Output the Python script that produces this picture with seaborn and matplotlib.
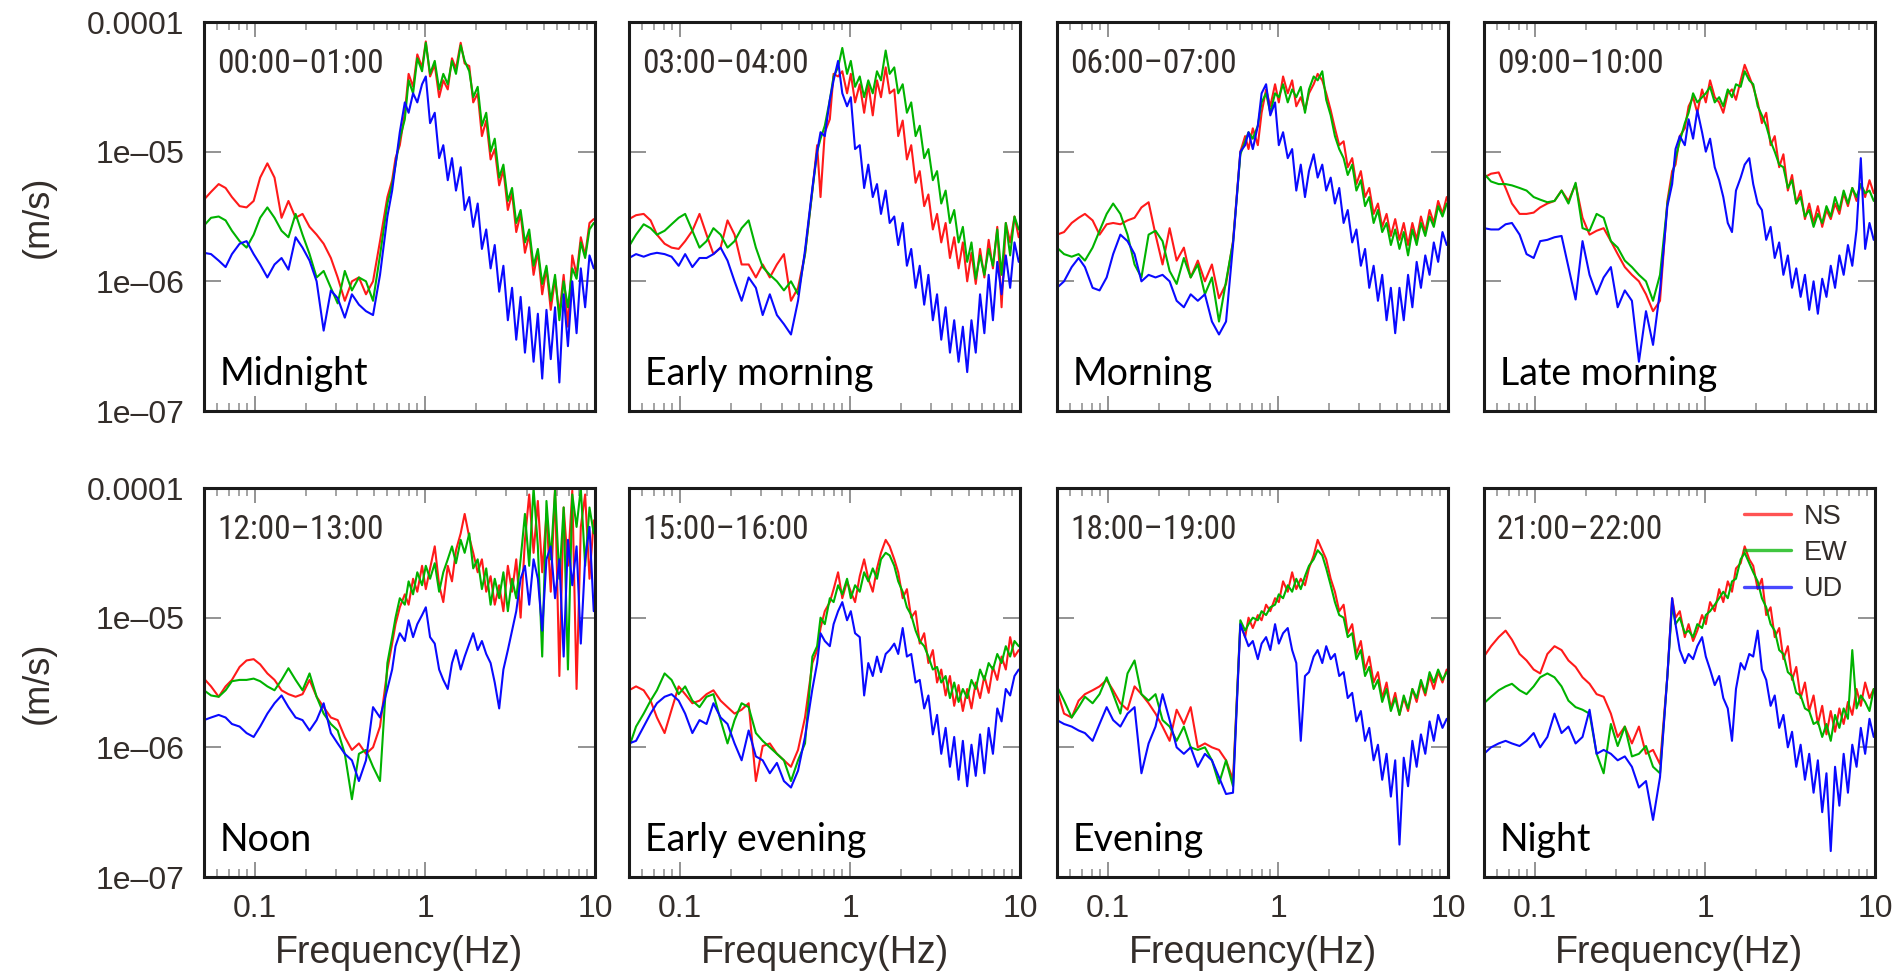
import sys
import matplotlib
matplotlib.use("Agg")
import numpy as np
import pandas as pd
import seaborn as sns
import matplotlib.pyplot as plt
from matplotlib import font_manager
from matplotlib.font_manager import FontProperties
from matplotlib.ticker import LogLocator, NullLocator, NullFormatter, FixedLocator

sns.set_theme(style="white")
plt.rcParams["font.family"] = ["Liberation Sans", "DejaVu Sans"]


def _find_condensed():
    cands = []
    for f in font_manager.fontManager.ttflist:
        name = f.name
        cond = ("Narrow" in name or "Condensed" in name or "Cond" in name
                or str(f.stretch) in ("condensed", "semi-condensed", "extra-condensed"))
        if not cond or f.style != "normal":
            continue
        try:
            w = int(f.weight)
        except (TypeError, ValueError):
            w = 400 if str(f.weight) in ("normal", "regular", "book") else 700
        if w not in (400,):
            continue
        if "Mono" in name or "Serif" in name:
            continue
        pri = 9
        for k, key in enumerate(["Liberation", "Roboto", "Noto Sans", "DejaVu Sans", "Open Sans"]):
            if key in name:
                pri = k
                break
        cands.append((pri, f.fname))
    cands.sort()
    return cands[0][1] if cands else None


_cond = _find_condensed()
if _cond:
    TIME_FP = FontProperties(fname=_cond, size=24)
else:
    TIME_FP = FontProperties(family=["Liberation Sans", "DejaVu Sans"], size=23)

# ---------------- data (log10 of m/s) ----------------
FREQ_HZ = [0.050, 0.055, 0.061, 0.067, 0.073, 0.081, 0.089, 0.098, 0.107, 0.118,
           0.130, 0.143, 0.157, 0.173, 0.190, 0.209, 0.230, 0.253, 0.279, 0.306,
           0.337, 0.371, 0.408, 0.449, 0.494, 0.543,
           0.60, 0.64, 0.67, 0.71, 0.76, 0.80, 0.85, 0.90, 0.96, 1.01,
           1.07, 1.14, 1.21, 1.28, 1.36, 1.44, 1.52, 1.62, 1.71, 1.82,
           1.92, 2.04, 2.16, 2.29, 2.43, 2.57, 2.73, 2.89, 3.07, 3.25,
           3.44, 3.65, 3.87, 4.10, 4.35, 4.61, 4.89, 5.18, 5.49, 5.82,
           6.17, 6.54, 6.93, 7.35, 7.79, 8.25, 8.75, 9.28, 9.83]

TIME_LABELS = ["00:00\u201301:00", "03:00\u201304:00", "06:00\u201307:00", "09:00\u201310:00",
               "12:00\u201313:00", "15:00\u201316:00", "18:00\u201319:00", "21:00\u201322:00"]
PERIOD_LABELS = ["Midnight", "Early morning", "Morning", "Late morning",
                 "Noon", "Early evening", "Evening", "Night"]
COMPONENTS = ["NS", "EW", "UD"]
Y_TICKS = [1e-7, 1e-6, 1e-5, 1e-4]
Y_TICK_LABELS = ["1e\u201307", "1e\u201306", "1e\u201305", "0.0001"]
X_TICKS = [0.1, 1, 10]
X_TICK_LABELS = ["0.1", "1", "10"]

MIDNIGHT_NS = [-5.37,-5.31,-5.25,-5.28,-5.35,-5.42,-5.43,-5.38,-5.20,-5.09,
               -5.20,-5.51,-5.38,-5.51,-5.48,-5.58,-5.64,-5.71,-5.82,-5.97,
               -6.15,-6.00,-5.97,-6.10,-6.00,-5.69,
               -5.35,-5.22,-5.05,-4.95,-4.70,-4.40,-4.50,-4.25,-4.35,-4.15,
               -4.42,-4.33,-4.58,-4.45,-4.52,-4.28,-4.36,-4.16,-4.32,-4.34,
               -4.62,-4.55,-4.88,-4.76,-5.06,-4.98,-5.26,-5.14,-5.45,-5.32,
               -5.62,-5.48,-5.78,-5.64,-5.95,-5.77,-6.10,-5.90,-6.22,-5.98,
               -6.25,-5.95,-6.35,-5.80,-5.95,-5.66,-5.80,-5.55,-5.52]
MIDNIGHT_EW = [-5.57,-5.51,-5.50,-5.53,-5.61,-5.69,-5.74,-5.64,-5.51,-5.43,
               -5.51,-5.61,-5.66,-5.48,-5.64,-5.79,-5.97,-5.92,-6.05,-6.17,
               -5.92,-6.07,-5.97,-6.00,-6.15,-5.80,
               -5.40,-5.25,-5.10,-4.90,-4.75,-4.45,-4.55,-4.28,-4.38,-4.16,
               -4.40,-4.30,-4.52,-4.40,-4.48,-4.30,-4.40,-4.18,-4.30,-4.38,
               -4.58,-4.50,-4.80,-4.70,-5.00,-4.90,-5.20,-5.10,-5.38,-5.28,
               -5.55,-5.45,-5.70,-5.60,-5.88,-5.75,-6.02,-5.88,-6.15,-5.95,
               -6.30,-6.00,-6.20,-5.90,-5.98,-5.70,-5.82,-5.60,-5.55]
MIDNIGHT_UD = [-5.78,-5.79,-5.84,-5.89,-5.79,-5.71,-5.69,-5.79,-5.87,-5.97,
               -5.87,-5.82,-5.91,-5.66,-5.74,-5.84,-6.00,-6.38,-6.07,-6.13,
               -6.28,-6.10,-6.18,-6.23,-6.26,-5.95,
               -5.50,-5.30,-5.10,-4.85,-4.62,-4.70,-4.55,-4.62,-4.48,-4.42,
               -4.78,-4.70,-5.05,-4.95,-5.22,-5.05,-5.30,-5.12,-5.45,-5.35,
               -5.58,-5.40,-5.75,-5.60,-5.90,-5.72,-6.08,-5.88,-6.30,-6.05,
               -6.45,-6.12,-6.55,-6.20,-6.62,-6.25,-6.75,-6.22,-6.60,-6.20,
               -6.78,-6.10,-6.50,-6.00,-6.40,-5.90,-6.20,-5.80,-5.90]

EARLY_MORNING_NS = [-5.52,-5.49,-5.48,-5.53,-5.64,-5.71,-5.74,-5.75,-5.69,-5.61,
                    -5.48,-5.64,-5.79,-5.74,-5.53,-5.64,-5.87,-5.87,-5.97,-5.87,
                    -5.97,-5.87,-5.79,-6.15,-6.05,-5.79,
                    -5.30,-4.95,-5.35,-4.85,-4.75,-4.40,-4.42,-4.38,-4.55,-4.40,
                    -4.62,-4.48,-4.70,-4.48,-4.72,-4.45,-4.58,-4.35,-4.55,-4.52,
                    -4.88,-4.76,-5.06,-4.95,-5.24,-5.15,-5.42,-5.33,-5.60,-5.48,
                    -5.70,-5.55,-5.82,-5.66,-5.90,-5.70,-6.00,-5.78,-6.02,-5.75,
                    -5.97,-5.68,-5.90,-5.58,-6.20,-5.55,-5.70,-5.50,-5.66]
EARLY_MORNING_EW = [-5.73,-5.64,-5.56,-5.59,-5.64,-5.61,-5.56,-5.51,-5.48,-5.61,
                    -5.74,-5.69,-5.59,-5.64,-5.74,-5.69,-5.59,-5.53,-5.74,-5.89,
                    -5.95,-6.00,-6.07,-6.00,-6.10,-5.79,
                    -5.30,-5.00,-4.90,-4.80,-4.60,-4.42,-4.35,-4.20,-4.40,-4.30,
                    -4.50,-4.42,-4.58,-4.45,-4.55,-4.38,-4.45,-4.22,-4.40,-4.35,
                    -4.55,-4.48,-4.70,-4.62,-4.88,-4.80,-5.05,-4.98,-5.22,-5.15,
                    -5.40,-5.30,-5.55,-5.45,-5.70,-5.58,-5.85,-5.70,-5.98,-5.80,
                    -5.95,-5.75,-5.88,-5.60,-5.95,-5.55,-5.80,-5.50,-5.60]
EARLY_MORNING_UD = [-5.82,-5.79,-5.81,-5.79,-5.78,-5.79,-5.81,-5.88,-5.79,-5.89,
                    -5.82,-5.82,-5.79,-5.74,-5.84,-6.00,-6.15,-5.97,-6.05,-6.26,
                    -6.10,-6.26,-6.33,-6.41,-6.15,-5.76,
                    -5.28,-5.00,-4.85,-4.88,-4.60,-4.45,-4.30,-4.55,-4.65,-4.58,
                    -4.98,-4.95,-5.28,-5.10,-5.35,-5.25,-5.48,-5.30,-5.55,-5.50,
                    -5.72,-5.55,-5.88,-5.75,-6.05,-5.88,-6.18,-5.95,-6.30,-6.10,
                    -6.45,-6.20,-6.55,-6.30,-6.62,-6.35,-6.70,-6.30,-6.55,-6.10,
                    -6.40,-5.95,-6.30,-5.85,-6.10,-5.80,-6.05,-5.70,-5.85]

MORNING_NS = [-5.64,-5.62,-5.55,-5.51,-5.48,-5.53,-5.64,-5.56,-5.55,-5.56,
              -5.53,-5.51,-5.43,-5.39,-5.64,-5.87,-5.59,-5.84,-5.74,-5.97,
              -5.84,-6.00,-5.87,-6.13,-6.02,-5.69,
              -5.00,-4.88,-4.98,-4.82,-4.95,-4.70,-4.52,-4.65,-4.48,-4.62,
              -4.42,-4.55,-4.45,-4.65,-4.58,-4.68,-4.55,-4.48,-4.40,-4.45,
              -4.55,-4.68,-4.82,-4.95,-4.92,-5.12,-5.05,-5.25,-5.15,-5.35,
              -5.28,-5.48,-5.40,-5.58,-5.48,-5.65,-5.52,-5.68,-5.55,-5.72,
              -5.55,-5.68,-5.50,-5.62,-5.45,-5.55,-5.38,-5.48,-5.35]
MORNING_EW = [-5.74,-5.79,-5.81,-5.79,-5.84,-5.74,-5.61,-5.48,-5.40,-5.48,
              -5.64,-5.87,-5.97,-5.64,-5.61,-5.69,-5.92,-6.02,-5.82,-5.97,
              -5.87,-6.10,-5.97,-6.31,-6.00,-5.70,
              -5.02,-4.92,-4.85,-4.90,-4.80,-4.62,-4.55,-4.70,-4.55,-4.58,
              -4.48,-4.62,-4.52,-4.58,-4.50,-4.70,-4.52,-4.42,-4.45,-4.38,
              -4.60,-4.72,-4.88,-4.98,-5.05,-5.18,-5.10,-5.30,-5.22,-5.42,
              -5.35,-5.55,-5.45,-5.62,-5.55,-5.72,-5.60,-5.75,-5.62,-5.80,
              -5.60,-5.72,-5.55,-5.65,-5.50,-5.58,-5.42,-5.50,-5.40]
MORNING_UD = [-6.05,-6.00,-5.89,-5.82,-5.89,-6.05,-6.07,-5.97,-5.79,-5.64,
              -5.69,-5.79,-6.00,-5.95,-5.97,-5.95,-6.00,-6.15,-6.20,-6.10,
              -6.15,-6.10,-6.31,-6.41,-6.31,-5.72,
              -5.00,-4.95,-4.85,-4.98,-4.80,-4.55,-4.48,-4.72,-4.62,-4.95,
              -4.85,-5.05,-4.98,-5.30,-5.10,-5.35,-5.15,-5.02,-5.20,-5.10,
              -5.30,-5.20,-5.40,-5.28,-5.55,-5.45,-5.70,-5.60,-5.88,-5.75,
              -6.05,-5.88,-6.15,-5.95,-6.30,-6.05,-6.40,-6.05,-6.30,-5.95,
              -6.20,-5.85,-6.05,-5.80,-5.95,-5.70,-5.85,-5.62,-5.72]

LATE_MORNING_NS = [-5.20,-5.17,-5.16,-5.28,-5.40,-5.48,-5.48,-5.47,-5.43,-5.40,
                   -5.38,-5.30,-5.38,-5.25,-5.51,-5.64,-5.61,-5.59,-5.69,-5.79,
                   -5.89,-5.95,-6.00,-6.10,-6.23,-6.15,
                   -5.38,-5.15,-5.10,-4.88,-4.82,-4.65,-4.58,-4.70,-4.52,-4.62,
                   -4.45,-4.58,-4.62,-4.70,-4.55,-4.52,-4.60,-4.45,-4.33,-4.42,
                   -4.50,-4.62,-4.78,-4.70,-4.95,-4.88,-5.12,-5.02,-5.30,-5.18,
                   -5.40,-5.30,-5.52,-5.40,-5.55,-5.42,-5.58,-5.45,-5.52,-5.40,
                   -5.48,-5.32,-5.42,-5.28,-5.38,-5.25,-5.35,-5.22,-5.32]
LATE_MORNING_EW = [-5.17,-5.23,-5.25,-5.25,-5.26,-5.28,-5.30,-5.35,-5.37,-5.39,
                   -5.38,-5.30,-5.40,-5.24,-5.59,-5.61,-5.48,-5.51,-5.69,-5.74,
                   -5.84,-5.89,-5.95,-6.00,-6.15,-5.95,
                   -5.40,-5.20,-5.05,-4.92,-4.78,-4.70,-4.55,-4.62,-4.58,-4.55,
                   -4.50,-4.62,-4.58,-4.65,-4.52,-4.58,-4.48,-4.50,-4.38,-4.45,
                   -4.48,-4.65,-4.72,-4.80,-4.92,-5.00,-5.10,-5.12,-5.28,-5.22,
                   -5.40,-5.35,-5.50,-5.45,-5.58,-5.48,-5.55,-5.42,-5.50,-5.35,
                   -5.45,-5.30,-5.40,-5.28,-5.35,-5.25,-5.32,-5.30,-5.38]
LATE_MORNING_UD = [-5.59,-5.60,-5.60,-5.56,-5.55,-5.64,-5.79,-5.82,-5.69,-5.68,
                   -5.66,-5.65,-5.89,-6.14,-5.69,-5.95,-6.10,-5.97,-5.89,-6.20,
                   -6.07,-6.15,-6.62,-6.23,-6.49,-6.07,
                   -5.42,-5.25,-4.98,-4.88,-4.95,-4.75,-4.90,-4.68,-4.85,-5.00,
                   -4.90,-5.12,-5.22,-5.35,-5.55,-5.62,-5.30,-5.20,-5.10,-5.05,
                   -5.25,-5.40,-5.45,-5.68,-5.58,-5.82,-5.70,-5.95,-5.80,-6.05,
                   -5.90,-6.12,-5.95,-6.22,-6.00,-6.25,-5.98,-6.12,-5.88,-6.05,
                   -5.80,-5.95,-5.72,-5.88,-5.60,-5.05,-5.75,-5.55,-5.68]

NOON_NS = [-5.47,-5.53,-5.61,-5.53,-5.48,-5.38,-5.33,-5.32,-5.36,-5.43,
           -5.48,-5.56,-5.59,-5.61,-5.59,-5.48,-5.61,-5.69,-5.77,-5.79,
           -5.92,-6.02,-5.97,-6.05,-6.00,-5.84,
           -5.40,-5.20,-5.05,-4.92,-4.82,-4.90,-4.70,-4.80,-4.60,-4.78,
           -4.62,-4.45,-4.75,-4.88,-4.60,-4.72,-4.48,-4.35,-4.20,-4.38,
           -4.50,-4.65,-4.55,-4.80,-4.68,-4.90,-4.75,-4.95,-4.60,-4.80,
           -4.55,-5.00,-4.40,-4.05,-4.50,-4.10,-4.65,-4.20,-4.80,-4.00,
           -5.45,-4.15,-4.60,-4.02,-5.55,-4.30,-4.05,-4.70,-4.25]
NOON_EW = [-5.56,-5.60,-5.61,-5.56,-5.49,-5.48,-5.48,-5.47,-5.49,-5.53,
           -5.56,-5.48,-5.39,-5.48,-5.56,-5.43,-5.61,-5.74,-5.82,-5.87,
           -6.05,-6.40,-6.05,-6.02,-6.15,-6.26,
           -5.35,-5.15,-5.00,-4.85,-4.90,-4.72,-4.82,-4.65,-4.75,-4.60,
           -4.70,-4.58,-4.80,-4.65,-4.55,-4.45,-4.58,-4.40,-4.50,-4.35,
           -4.62,-4.55,-4.78,-4.62,-4.90,-4.70,-4.85,-4.65,-4.95,-4.70,
           -4.85,-4.55,-4.20,-4.60,-4.00,-4.45,-5.30,-4.10,-4.55,-4.02,
           -4.70,-4.15,-5.40,-4.05,-4.30,-4.00,-4.60,-4.15,-4.35]
NOON_UD = [-5.79,-5.77,-5.75,-5.77,-5.82,-5.84,-5.89,-5.92,-5.84,-5.74,
           -5.66,-5.60,-5.69,-5.77,-5.79,-5.87,-5.79,-5.66,-5.89,-5.97,
           -6.05,-6.10,-6.26,-6.10,-5.69,-5.77,
           -5.55,-5.40,-5.22,-5.12,-5.18,-5.02,-5.15,-5.05,-4.98,-4.92,
           -5.15,-5.20,-5.40,-5.48,-5.55,-5.35,-5.25,-5.40,-5.30,-5.20,
           -5.12,-5.25,-5.18,-5.28,-5.35,-5.50,-5.70,-5.40,-5.25,-5.10,
           -4.95,-4.70,-4.60,-4.90,-4.55,-4.70,-5.10,-4.55,-4.45,-4.85,
           -4.55,-5.30,-4.40,-4.75,-4.45,-5.20,-4.55,-4.30,-4.95]

EARLY_EVENING_NS = [-5.56,-5.53,-5.56,-5.64,-5.77,-5.89,-5.71,-5.53,-5.59,-5.66,
                    -5.64,-5.59,-5.56,-5.64,-5.69,-5.74,-5.71,-5.66,-6.26,-5.99,
                    -5.97,-6.05,-6.10,-6.15,-6.02,-5.77,
                    -5.35,-5.25,-5.08,-4.95,-4.88,-4.78,-4.65,-4.85,-4.72,-4.80,
                    -4.88,-4.68,-4.55,-4.70,-4.80,-4.62,-4.50,-4.40,-4.45,-4.55,
                    -4.65,-4.85,-4.78,-5.00,-4.95,-5.20,-5.12,-5.35,-5.25,-5.50,
                    -5.40,-5.60,-5.45,-5.68,-5.52,-5.72,-5.55,-5.70,-5.50,-5.62,
                    -5.45,-5.58,-5.38,-5.48,-5.30,-5.40,-5.15,-5.30,-5.25]
EARLY_EVENING_EW = [-6.00,-5.84,-5.74,-5.64,-5.56,-5.43,-5.48,-5.59,-5.53,-5.64,
                    -5.69,-5.61,-5.59,-5.79,-5.97,-5.79,-5.66,-5.69,-5.89,-5.95,
                    -6.00,-6.05,-6.10,-6.26,-6.10,-5.97,
                    -5.30,-5.22,-5.00,-5.05,-4.85,-4.88,-4.75,-4.82,-4.70,-4.85,
                    -4.75,-4.80,-4.65,-4.72,-4.62,-4.70,-4.55,-4.50,-4.52,-4.60,
                    -4.72,-4.80,-4.92,-4.98,-5.10,-5.18,-5.22,-5.30,-5.40,-5.38,
                    -5.50,-5.45,-5.62,-5.50,-5.65,-5.55,-5.62,-5.48,-5.55,-5.40,
                    -5.48,-5.35,-5.40,-5.28,-5.35,-5.22,-5.30,-5.18,-5.22]
EARLY_EVENING_UD = [-5.97,-5.95,-5.84,-5.74,-5.66,-5.61,-5.59,-5.64,-5.74,-5.89,
                    -5.79,-5.82,-5.66,-5.77,-5.82,-5.97,-6.10,-5.87,-6.07,-6.10,
                    -6.20,-6.12,-6.26,-6.31,-6.18,-5.92,
                    -5.55,-5.35,-5.12,-5.18,-5.22,-5.05,-4.95,-4.88,-5.02,-4.95,
                    -5.12,-5.15,-5.60,-5.35,-5.45,-5.30,-5.42,-5.28,-5.25,-5.20,
                    -5.28,-5.08,-5.30,-5.28,-5.50,-5.48,-5.70,-5.60,-5.90,-5.75,
                    -6.05,-5.85,-6.15,-5.92,-6.25,-5.95,-6.30,-5.98,-6.22,-5.90,
                    -6.20,-5.85,-6.05,-5.70,-5.80,-5.55,-5.60,-5.45,-5.40]

EVENING_NS = [-5.56,-5.74,-5.77,-5.64,-5.59,-5.56,-5.53,-5.48,-5.56,-5.66,
              -5.71,-5.53,-5.59,-5.66,-5.74,-5.84,-5.95,-5.71,-5.82,-5.69,
              -6.00,-5.97,-6.00,-6.02,-6.10,-6.25,
              -5.05,-5.15,-5.00,-5.08,-4.98,-5.02,-4.90,-4.95,-4.85,-4.88,
              -4.72,-4.80,-4.65,-4.78,-4.70,-4.75,-4.62,-4.52,-4.40,-4.48,
              -4.55,-4.70,-4.80,-4.95,-4.90,-5.12,-5.05,-5.28,-5.18,-5.40,
              -5.30,-5.50,-5.42,-5.62,-5.50,-5.70,-5.58,-5.75,-5.62,-5.72,
              -5.55,-5.65,-5.50,-5.60,-5.45,-5.55,-5.42,-5.50,-5.40]
EVENING_EW = [-5.53,-5.64,-5.77,-5.69,-5.61,-5.66,-5.59,-5.46,-5.59,-5.74,
              -5.43,-5.33,-5.59,-5.64,-5.59,-5.79,-5.84,-5.95,-5.84,-6.00,
              -6.02,-6.00,-6.10,-6.28,-6.10,-6.30,
              -5.02,-5.10,-5.05,-5.00,-5.02,-4.95,-4.98,-4.92,-4.90,-4.82,
              -4.85,-4.75,-4.80,-4.70,-4.78,-4.68,-4.60,-4.55,-4.48,-4.52,
              -4.62,-4.75,-4.88,-4.98,-5.00,-5.15,-5.12,-5.32,-5.25,-5.45,
              -5.38,-5.55,-5.48,-5.65,-5.55,-5.72,-5.62,-5.75,-5.60,-5.70,
              -5.55,-5.62,-5.48,-5.58,-5.42,-5.50,-5.40,-5.48,-5.42]
EVENING_UD = [-5.79,-5.82,-5.84,-5.87,-5.89,-5.95,-5.82,-5.69,-5.79,-5.84,
              -5.74,-5.69,-6.20,-5.97,-5.84,-5.59,-5.79,-6.00,-6.05,-6.00,
              -6.15,-6.05,-6.10,-6.23,-6.36,-6.35,
              -5.05,-5.15,-5.22,-5.18,-5.32,-5.20,-5.15,-5.25,-5.05,-5.20,
              -5.12,-5.08,-5.25,-5.35,-5.95,-5.45,-5.42,-5.30,-5.25,-5.35,
              -5.22,-5.32,-5.28,-5.45,-5.42,-5.62,-5.58,-5.80,-5.72,-5.95,
              -5.85,-6.10,-5.98,-6.25,-6.05,-6.38,-6.10,-6.75,-6.08,-6.30,
              -5.95,-6.15,-5.90,-6.05,-5.80,-5.95,-5.75,-5.85,-5.78]

NIGHT_NS = [-5.30,-5.22,-5.15,-5.10,-5.17,-5.28,-5.33,-5.40,-5.43,-5.28,
            -5.22,-5.25,-5.33,-5.38,-5.46,-5.51,-5.59,-5.61,-5.74,-5.92,
            -5.84,-5.97,-5.84,-6.05,-6.02,-6.13,
            -5.45,-4.85,-5.00,-4.95,-5.15,-5.05,-5.18,-5.10,-4.98,-5.05,
            -4.88,-4.95,-4.78,-4.88,-4.72,-4.80,-4.62,-4.58,-4.45,-4.55,
            -4.60,-4.78,-4.70,-4.98,-4.92,-5.15,-5.08,-5.32,-5.22,-5.48,
            -5.38,-5.62,-5.50,-5.72,-5.60,-5.82,-5.68,-5.90,-5.72,-5.88,
            -5.70,-5.82,-5.65,-5.75,-5.55,-5.68,-5.50,-5.62,-5.55]
NIGHT_EW = [-5.66,-5.61,-5.56,-5.53,-5.51,-5.56,-5.59,-5.53,-5.46,-5.43,
            -5.46,-5.53,-5.64,-5.69,-5.71,-5.74,-6.05,-6.20,-5.82,-5.99,
            -5.84,-6.07,-6.05,-5.99,-6.15,-6.20,
            -5.45,-4.90,-5.05,-5.00,-5.12,-5.10,-5.15,-5.05,-5.08,-4.98,
            -4.95,-4.90,-4.85,-4.80,-4.85,-4.72,-4.70,-4.55,-4.50,-4.58,
            -4.65,-4.72,-4.85,-4.92,-5.05,-5.10,-5.25,-5.28,-5.42,-5.45,
            -5.58,-5.60,-5.70,-5.72,-5.82,-5.80,-5.92,-5.82,-5.95,-5.75,
            -5.85,-5.70,-5.78,-5.25,-5.70,-5.60,-5.65,-5.72,-5.55]
NIGHT_UD = [-6.05,-6.00,-5.97,-5.95,-5.97,-5.99,-5.95,-5.89,-6.00,-5.92,
            -5.74,-5.89,-5.84,-5.97,-5.92,-5.71,-6.05,-6.02,-6.05,-6.10,
            -6.07,-6.15,-6.31,-6.26,-6.56,-6.23,
            -5.45,-4.85,-5.05,-5.25,-5.35,-5.28,-5.32,-5.22,-5.15,-5.30,
            -5.40,-5.52,-5.45,-5.62,-5.70,-5.95,-5.55,-5.35,-5.40,-5.28,
            -5.30,-5.10,-5.40,-5.48,-5.68,-5.60,-5.85,-5.75,-6.00,-5.88,
            -6.15,-5.98,-6.25,-6.05,-6.35,-6.10,-6.50,-6.20,-6.80,-6.15,
            -6.45,-6.05,-6.35,-5.98,-6.15,-5.85,-6.05,-5.78,-5.92]

PANEL_SERIES = [
    (MIDNIGHT_NS, MIDNIGHT_EW, MIDNIGHT_UD),
    (EARLY_MORNING_NS, EARLY_MORNING_EW, EARLY_MORNING_UD),
    (MORNING_NS, MORNING_EW, MORNING_UD),
    (LATE_MORNING_NS, LATE_MORNING_EW, LATE_MORNING_UD),
    (NOON_NS, NOON_EW, NOON_UD),
    (EARLY_EVENING_NS, EARLY_EVENING_EW, EARLY_EVENING_UD),
    (EVENING_NS, EVENING_EW, EVENING_UD),
    (NIGHT_NS, NIGHT_EW, NIGHT_UD),
]

# ---------------- style ----------------
PALETTE = {"NS": "#ff1a1a", "EW": "#00b300", "UD": "#0a0aff"}
TEXT_COLOR = "#332d2a"
TICK_COLOR = "#8a8a8a"

W, H = 1897, 976
fig = plt.figure(figsize=(W / 100, H / 100), dpi=100)

col_left_px = [204, 629, 1057, 1484]
ax_w_px = 391
row_top_px = [22, 488]
ax_h_px = 389


def build_frame(series):
    rows = []
    for comp, vals in zip(COMPONENTS, series):
        n = min(len(FREQ_HZ), len(vals))
        if n != len(FREQ_HZ) or n != len(vals):
            print(f"length mismatch {comp}: {len(vals)}", file=sys.stderr)
        for f, v in zip(FREQ_HZ[:n], vals[:n]):
            rows.append((f, 10.0 ** v, comp))
    return pd.DataFrame(rows, columns=["freq", "amp", "component"])


for i, series in enumerate(PANEL_SERIES):
    r, c = divmod(i, 4)
    left = col_left_px[c] / W
    bottom = 1 - (row_top_px[r] + ax_h_px) / H
    ax = fig.add_axes([left, bottom, ax_w_px / W, ax_h_px / H])
    df = build_frame(series)
    sns.lineplot(data=df, x="freq", y="amp", hue="component", hue_order=COMPONENTS,
                 palette=PALETTE, estimator=None, errorbar=None, sort=False,
                 linewidth=1.5, ax=ax, legend=(i == 7))
    ax.set_xscale("log")
    ax.set_yscale("log")
    ax.set_xlim(0.05, 10)
    ax.set_ylim(1e-7, 1e-4)
    ax.set_xlabel("")
    ax.set_ylabel("")

    ax.xaxis.set_major_locator(FixedLocator(X_TICKS))
    ax.xaxis.set_minor_locator(LogLocator(base=10, subs=np.arange(2, 10)))
    ax.xaxis.set_minor_formatter(NullFormatter())
    ax.yaxis.set_major_locator(FixedLocator(Y_TICKS))
    ax.yaxis.set_minor_locator(NullLocator())
    ax.set_xticklabels(X_TICK_LABELS)
    ax.set_yticklabels(Y_TICK_LABELS)

    ax.tick_params(axis="x", which="major", direction="in", top=True, bottom=True,
                   length=11, width=1.3, color=TICK_COLOR, pad=12,
                   labelsize=23, labelcolor=TEXT_COLOR, labelbottom=(r == 1))
    ax.tick_params(axis="x", which="minor", direction="in", top=True, bottom=True,
                   length=5.5, width=1.1, color=TICK_COLOR)
    ax.tick_params(axis="y", which="major", direction="in", left=True, right=True,
                   length=12, width=1.3, color=TICK_COLOR, pad=14,
                   labelsize=23, labelcolor=TEXT_COLOR, labelleft=(c == 0))
    for sp in ax.spines.values():
        sp.set_visible(True)
        sp.set_color("#1a1a1a")
        sp.set_linewidth(2.2)

    ax.text(0.033, 0.869, TIME_LABELS[i], transform=ax.transAxes, fontproperties=TIME_FP,
            color=TEXT_COLOR, ha="left", va="baseline")
    ax.text(0.04, 0.066, PERIOD_LABELS[i], transform=ax.transAxes, fontsize=27,
            color="black", ha="left", va="baseline", family=["Lato", "DejaVu Sans"])

    if r == 1:
        cx = (col_left_px[c] + ax_w_px / 2) / W
        fig.text(cx, 1 - 953 / H, "Frequency(Hz)", ha="center", va="center",
                 fontsize=27, color=TEXT_COLOR)
    if c == 0:
        cy = 1 - (row_top_px[r] + ax_h_px / 2) / H
        fig.text(38 / W, cy, "(m/s)", ha="center", va="center", rotation=90,
                 fontsize=26, color=TEXT_COLOR)

    if i == 7:
        handles, labels = ax.get_legend_handles_labels()
        leg = ax.legend(handles, labels, loc="upper left", bbox_to_anchor=(0.665, 0.96),
                        frameon=False, fontsize=19.5, handlelength=1.75, handletextpad=0.45,
                        labelspacing=0.38, borderaxespad=0, borderpad=0)
        for t in leg.get_texts():
            t.set_color(TEXT_COLOR)
        for ln in leg.get_lines():
            ln.set_linewidth(2.4)
            ln.set_alpha(0.75)

fig.savefig("out.png", dpi=100, facecolor="white")
